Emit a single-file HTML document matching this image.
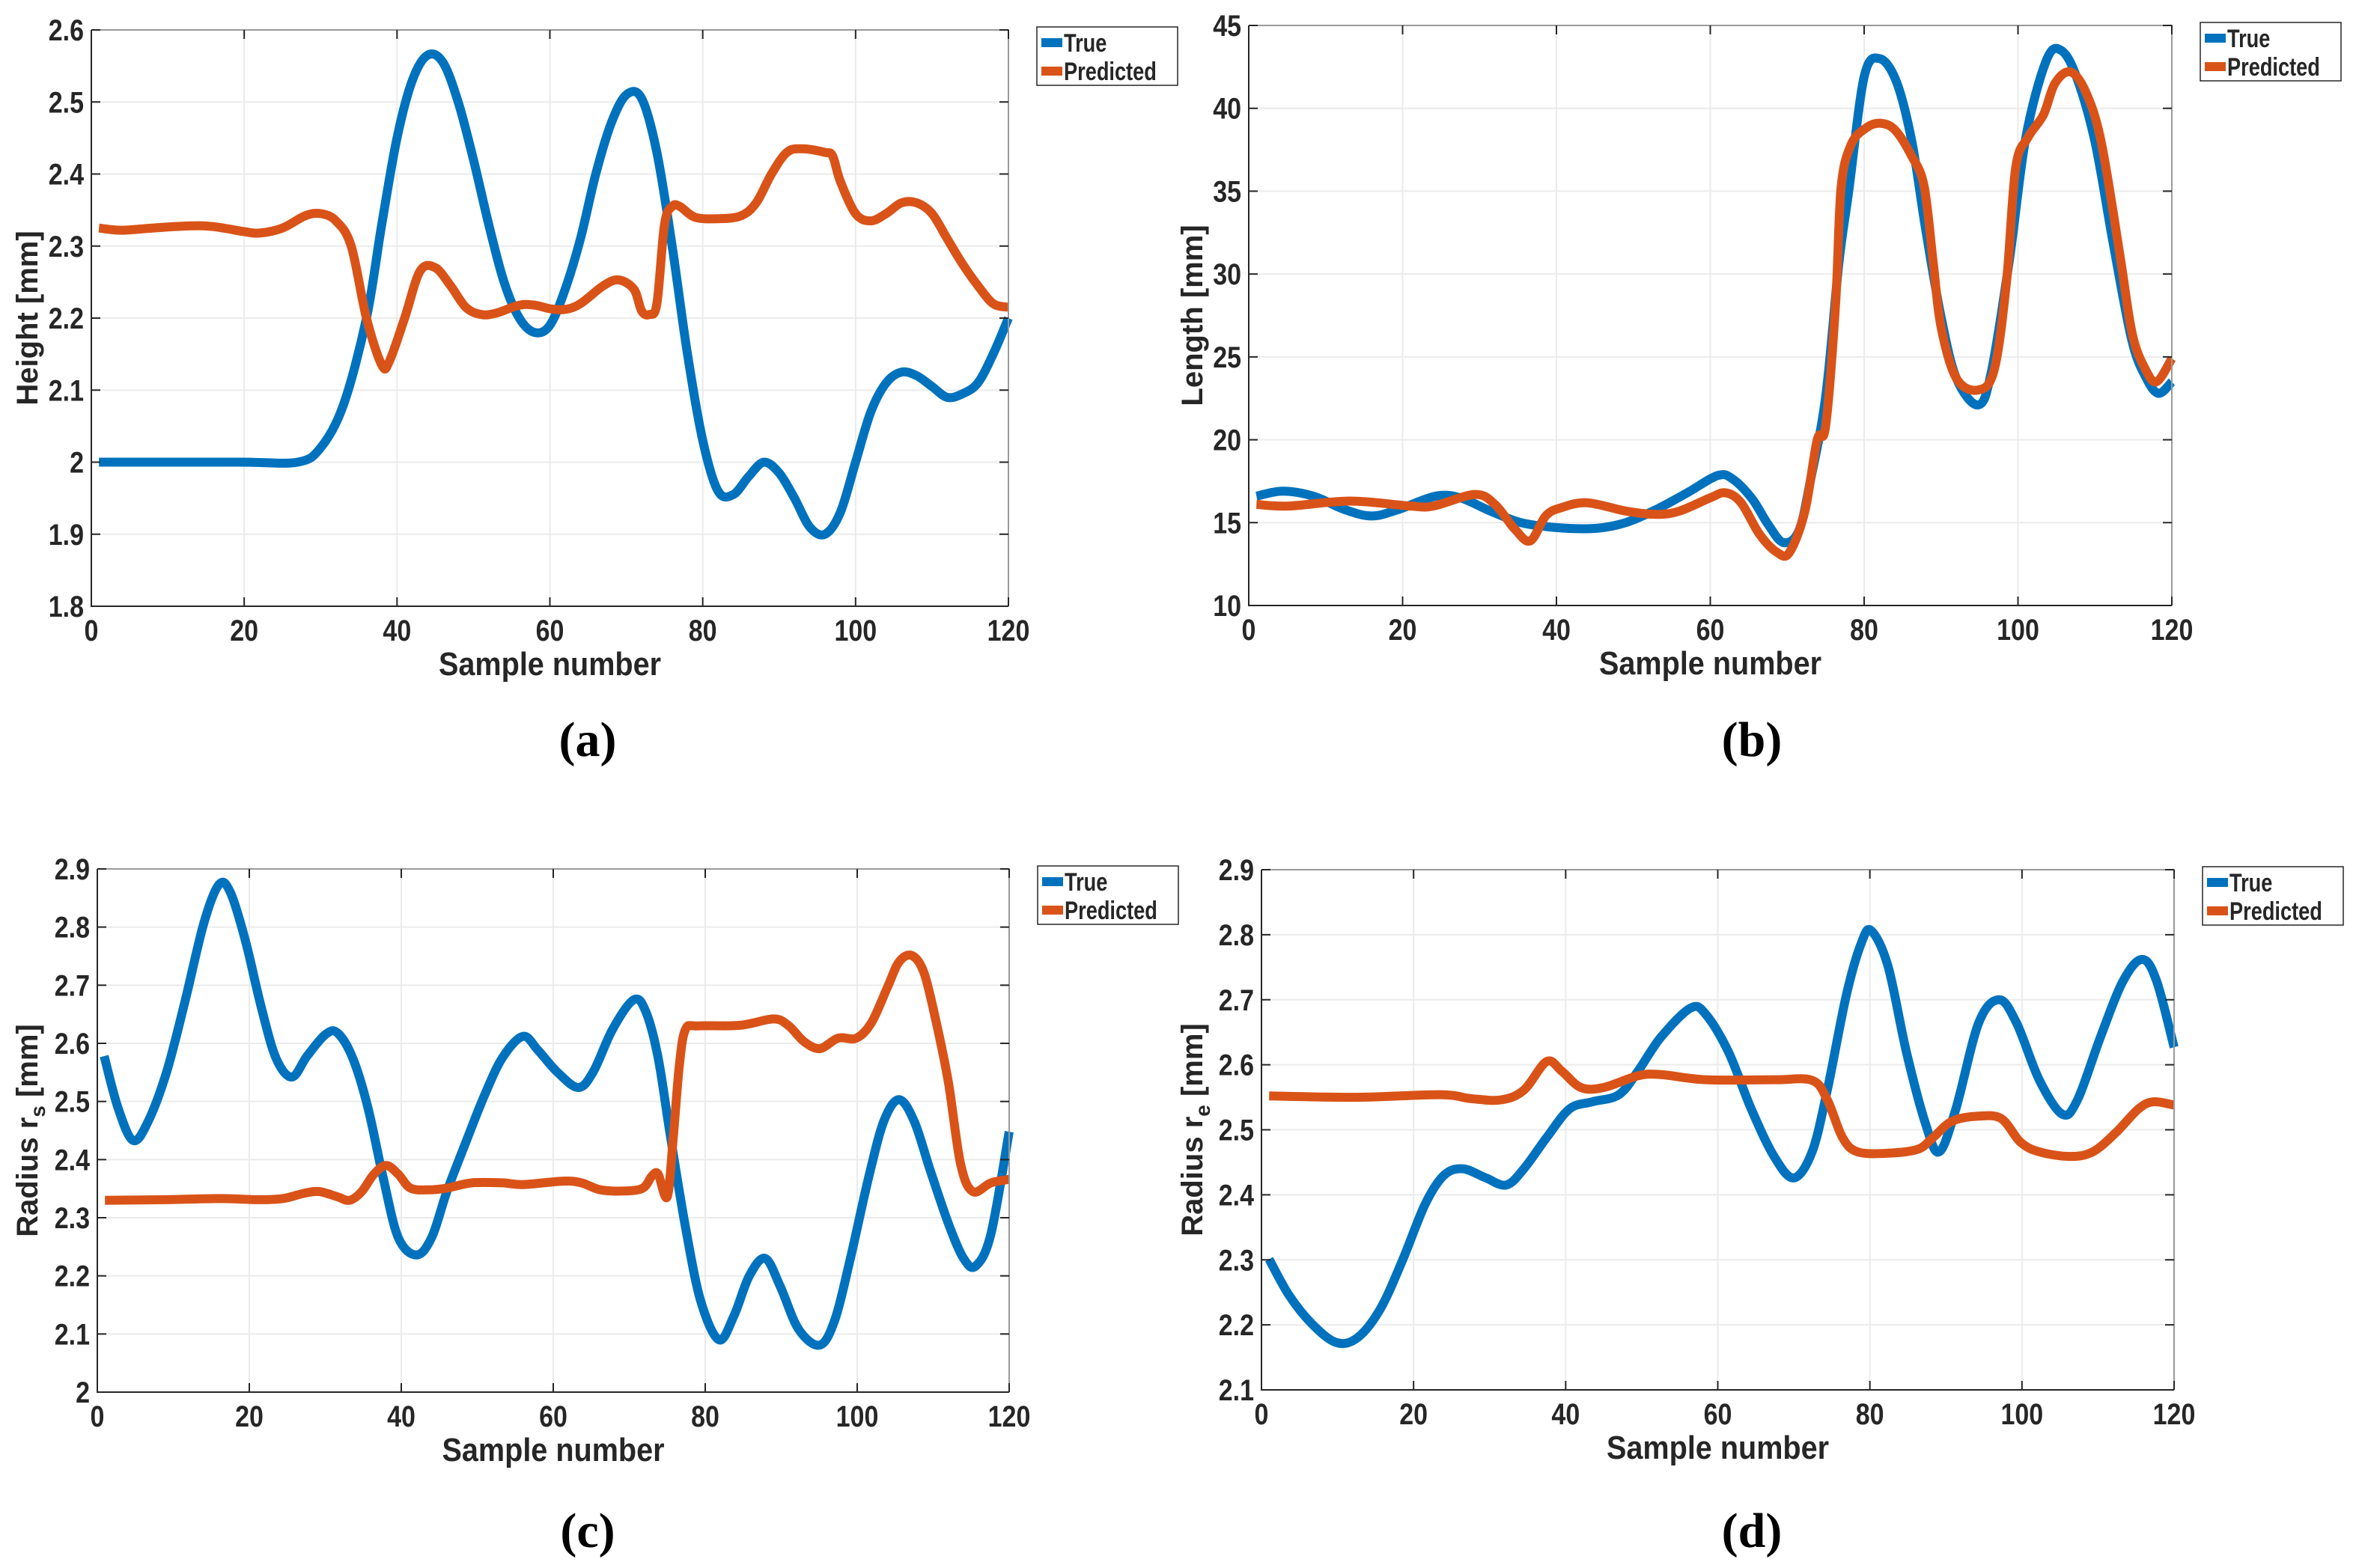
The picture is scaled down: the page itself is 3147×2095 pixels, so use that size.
<!DOCTYPE html>
<html><head><meta charset="utf-8"><style>
html,body{margin:0;padding:0;background:#fff;}
svg{display:block;}
</style></head><body>
<svg id="fig" width="3147" height="2095" viewBox="0 0 3147 2095" xmlns="http://www.w3.org/2000/svg" font-family="Liberation Sans, sans-serif"></svg>
<script>
// ---- Panel (a): Height ----
const aTrueX=[1,10,20,27,30,33,36,38,40,42,44,46,48,50,52,54,56,58,60,62,64,66,68,70,72,74,76,78,80,82,84,86,88,90,92,94,96,98,100,102,104,106,108,110,112,114,116,118,120];
const aTrueY=[2.0,2.0,2.0,2.0,2.02,2.08,2.2,2.33,2.45,2.53,2.565,2.555,2.5,2.42,2.33,2.25,2.2,2.18,2.19,2.24,2.31,2.4,2.47,2.51,2.505,2.43,2.3,2.15,2.03,1.96,1.955,1.98,2.0,1.985,1.95,1.91,1.9,1.93,2.0,2.07,2.11,2.125,2.12,2.105,2.09,2.095,2.11,2.15,2.2];
const aPredX=[1,4,8,13,16,20,22,25,28,30,32,34,36,38,39,41,43,45,47,49,51,53,56,58,60,62,64,67,69,71,72,73,74,75,76,77,79,82,85,87,89,91,93,96,97,98,100,102,104,106,108,110,112,114,116,118,120];
const aPredY=[2.325,2.322,2.325,2.328,2.327,2.32,2.318,2.325,2.342,2.345,2.335,2.3,2.2,2.135,2.14,2.2,2.265,2.27,2.245,2.215,2.205,2.207,2.218,2.218,2.213,2.212,2.22,2.245,2.253,2.24,2.21,2.205,2.22,2.33,2.355,2.355,2.34,2.338,2.342,2.36,2.4,2.43,2.435,2.43,2.425,2.39,2.345,2.335,2.345,2.36,2.36,2.345,2.31,2.275,2.245,2.22,2.215];
const aYTicks=[1.8,1.9,2,2.1,2.2,2.3,2.4,2.5,2.6];
// ---- Panel (b): Length ----
const bTrueX=[1,4.4,8.4,12.4,16,19.5,24.3,27.5,31.4,35.4,40,45,49,53,57,61,63,65.5,67.5,69.5,71.5,73,75,76.7,78,80,82,84.2,86.2,88,90,92,94.8,96.5,98.9,101,103.7,105.6,107.6,110,112.4,114.8,116.7,118.3,120];
const bTrueY=[16.6,16.9,16.6,15.8,15.4,15.8,16.6,16.5,15.7,15.0,14.7,14.65,15.0,15.8,16.8,17.85,17.6,16.4,14.9,13.8,14.5,17.5,22.6,30.6,35,41.9,43,41.6,38,32.7,27.4,23.7,22.1,24,30.9,38.2,42.9,43.5,41.9,38,31.8,26,23.7,22.8,23.5];
const bPredX=[1,5.2,13.2,21,24,29.4,32,34.6,36.6,38.6,40.6,44,49,53,56,60,62,64,66.4,68.7,70.3,72.3,73.9,75,76.3,77,78.3,80.2,82,84,86.2,87.8,89,90,92,94.8,96.9,98.5,99.7,101.3,103.3,104.8,106.8,108.8,110.8,113.2,114.8,116.4,118,120];
const bPredY=[16.1,16.0,16.3,16.0,16.0,16.7,16.1,14.6,13.9,15.4,15.9,16.2,15.7,15.5,15.7,16.5,16.8,16.2,14.3,13.2,13.2,15.7,20,20.85,28.3,35.2,37.8,38.8,39.1,38.7,37.1,35.3,30.6,26.8,23.7,23,24.2,29.5,36.4,38.25,39.6,41.5,42.2,41,38,31.3,26.5,24.4,23.5,24.9];
const bYTicks=[10,15,20,25,30,35,40,45];
// ---- Panel (c): Radius rs ----
const cTrueX=[0.9,2.7,4.7,6.7,9.1,11.5,14,16,17.5,19.5,21.5,23.5,25.6,27.6,30,31.6,33.6,35.6,37.6,39.6,42,44,46,48.5,50.9,53.3,56,58,60.5,63.3,65.3,67.8,70.6,72.2,73.8,75.4,77.4,79.4,81.8,83.8,85.8,87.9,89.9,92.3,95.1,97.1,99.1,101.5,103.5,105.5,107.5,109.6,112,114,115.6,117.6,120];
const cTrueY=[2.578,2.49,2.433,2.466,2.55,2.67,2.806,2.873,2.86,2.776,2.666,2.575,2.542,2.578,2.615,2.618,2.575,2.49,2.37,2.266,2.236,2.266,2.345,2.43,2.509,2.575,2.612,2.588,2.551,2.524,2.552,2.624,2.675,2.654,2.575,2.442,2.284,2.157,2.09,2.132,2.2,2.23,2.181,2.108,2.081,2.126,2.23,2.369,2.466,2.503,2.466,2.382,2.29,2.23,2.217,2.272,2.448];
const cPredX=[1,9,16.3,21,24.4,27.2,29.2,31.6,33.2,34.8,36.4,38,39.6,41.2,43.7,46,49.3,53.3,56,61.3,63.7,66.2,69.4,71.8,73,73.8,75,75.8,76.6,77.4,79,84.6,89,91,93,95.1,97.5,99.9,101.9,104,105.5,107.2,108.8,110.4,112,113.6,115.2,117.6,120];
const cPredY=[2.33,2.331,2.333,2.331,2.333,2.342,2.345,2.336,2.33,2.345,2.375,2.39,2.375,2.351,2.348,2.351,2.36,2.36,2.357,2.363,2.36,2.348,2.346,2.351,2.372,2.375,2.336,2.44,2.563,2.624,2.63,2.631,2.642,2.63,2.603,2.591,2.609,2.609,2.636,2.697,2.74,2.751,2.721,2.636,2.533,2.393,2.345,2.36,2.366];
const cYTicks=[2,2.1,2.2,2.3,2.4,2.5,2.6,2.7,2.8,2.9];
// ---- Panel (d): Radius re ----
const dTrueX=[1,3.6,6.6,9.8,12.6,15.6,18.5,21.5,24,26.5,29.5,32.2,34.5,37.5,40.5,43.5,47,49.5,52.5,56.4,58.4,61.4,64.4,67.4,70,72.4,74.4,76.9,78.9,80.2,82.4,84.8,87.3,89.1,91.3,94.3,97,99.3,102.3,105.3,107.3,110.3,113.3,115.8,117.7,120];
const dTrueY=[2.301,2.246,2.202,2.173,2.18,2.224,2.298,2.385,2.43,2.44,2.426,2.415,2.44,2.488,2.532,2.543,2.554,2.59,2.642,2.687,2.678,2.62,2.532,2.459,2.426,2.466,2.561,2.707,2.788,2.806,2.751,2.62,2.51,2.466,2.532,2.664,2.7,2.664,2.576,2.524,2.546,2.642,2.729,2.762,2.729,2.627];
const dPredX=[1,12.6,23.5,27.5,31.5,34.5,37.5,39.5,42,45,49.5,52.5,58.4,67.4,72.4,74.4,76.4,78.4,82.4,86.3,88.3,90.8,94.3,97.3,99.8,102.3,106.3,109.3,112.3,115.3,117.3,120];
const dPredY=[2.552,2.55,2.554,2.548,2.546,2.561,2.605,2.59,2.565,2.565,2.583,2.585,2.577,2.577,2.576,2.546,2.488,2.466,2.464,2.47,2.488,2.513,2.521,2.517,2.481,2.466,2.459,2.466,2.495,2.532,2.543,2.538];
const dYTicks=[2.1,2.2,2.3,2.4,2.5,2.6,2.7,2.8,2.9];
const xTicks=[0,20,40,60,80,100,120];

const NS="http://www.w3.org/2000/svg";
const svg=document.getElementById('fig');
function mk(tag,attrs,parent){const e=document.createElementNS(NS,tag);for(const k in attrs)e.setAttribute(k,attrs[k]);(parent||svg).appendChild(e);return e;}
function smoothPath(pts){
  let d='M'+pts[0][0].toFixed(1)+','+pts[0][1].toFixed(1);
  for(let i=0;i<pts.length-1;i++){
    const p0=pts[Math.max(0,i-1)],p1=pts[i],p2=pts[i+1],p3=pts[Math.min(pts.length-1,i+2)];
    const c1x=p1[0]+(p2[0]-p0[0])/6,c1y=p1[1]+(p2[1]-p0[1])/6;
    const c2x=p2[0]-(p3[0]-p1[0])/6,c2y=p2[1]-(p3[1]-p1[1])/6;
    d+=' C'+c1x.toFixed(1)+','+c1y.toFixed(1)+' '+c2x.toFixed(1)+','+c2y.toFixed(1)+' '+p2[0].toFixed(1)+','+p2[1].toFixed(1);
  }
  return d;
}
function panel(cfg){
  const g=mk('g',{});
  
  
  const sx=v=>cfg.x0+(v-0)/(120)*(cfg.x1-cfg.x0);
  const sy=v=>cfg.y1-(v-cfg.ymin)/(cfg.ymax-cfg.ymin)*(cfg.y1-cfg.y0);
  xTicks.forEach(t=>{const l=mk('line',{x1:sx(t),x2:sx(t),y1:cfg.y0,y2:cfg.y1,stroke:'#ebebeb','stroke-width':2},g);
    });
  cfg.yt.forEach(t=>{const l=mk('line',{x1:cfg.x0,x2:cfg.x1,y1:sy(t),y2:sy(t),stroke:'#ebebeb','stroke-width':2},g);
    });
  const s1=mk('path',{d:smoothPath(cfg.tx.map((x,i)=>[sx(x),sy(cfg.ty[i])])),fill:'none',stroke:'#0072BD','stroke-width':12,'stroke-linejoin':'round'},g);
  
  const s2=mk('path',{d:smoothPath(cfg.px.map((x,i)=>[sx(x),sy(cfg.py[i])])),fill:'none',stroke:'#D95319','stroke-width':12,'stroke-linejoin':'round'},g);
  
  const bx=mk('path',{d:`M${cfg.x0},${cfg.y0}H${cfg.x1}V${cfg.y1}`,fill:'none',stroke:'#9a9a9a','stroke-width':2},g);
  
  const ax=mk('path',{d:`M${cfg.x0},${cfg.y0}V${cfg.y1}H${cfg.x1}`,fill:'none',stroke:'#262626','stroke-width':2},g);
  
  xTicks.forEach(t=>{
    mk('line',{x1:sx(t),x2:sx(t),y1:cfg.y1,y2:cfg.y1-12,stroke:'#262626','stroke-width':2},g);
    mk('line',{x1:sx(t),x2:sx(t),y1:cfg.y0,y2:cfg.y0+12,stroke:'#262626','stroke-width':2},g);
    const tx=mk('text',{x:0,y:0,'font-size':40,'font-weight':'bold',fill:'#262626','text-anchor':'middle',transform:`translate(${sx(t)},${cfg.y1+46}) scale(0.85,1)`},g);
    tx.textContent=t;
  });
  cfg.yt.forEach(t=>{
    mk('line',{x1:cfg.x0,x2:cfg.x0+12,y1:sy(t),y2:sy(t),stroke:'#262626','stroke-width':2},g);
    mk('line',{x1:cfg.x1,x2:cfg.x1-12,y1:sy(t),y2:sy(t),stroke:'#262626','stroke-width':2},g);
    const tx=mk('text',{x:0,y:0,'font-size':40,'font-weight':'bold',fill:'#262626','text-anchor':'end',transform:`translate(${cfg.x0-10},${sy(t)+14}) scale(0.85,1)`},g);
    tx.textContent=t;
  });
  const xt=mk('text',{x:0,y:0,'font-size':44,'font-weight':'bold',fill:'#262626','text-anchor':'middle',transform:`translate(${(cfg.x0+cfg.x1)/2},${cfg.y1+92}) scale(0.9,1)`},g);
  xt.textContent='Sample number';
  const yt=mk('text',{x:0,y:0,'font-size':40,'font-weight':'bold',fill:'#262626','text-anchor':'middle',transform:`translate(${cfg.ytx},${(cfg.y0+cfg.y1)/2}) rotate(-90)`},g);
  
  if(cfg.sub){yt.textContent=cfg.ytitle+'  r';const ts=mk('tspan',{'font-size':28,dy:10},yt);ts.textContent=cfg.sub;const t2=mk('tspan',{dy:-10},yt);t2.textContent='  [mm]';}
  else yt.textContent=cfg.ytitle;
  const lx=cfg.x1+38, ly=cfg.y0-4;
  const lg=mk('g',{},g);
  mk('rect',{x:lx,y:ly,width:188,height:78,fill:'#fff',stroke:'#262626','stroke-width':1.5},lg);
  [['True','#0072BD',21],['Predicted','#D95319',59]].forEach(([n,c,dy])=>{
    const r=mk('rect',{x:lx+6,y:ly+dy-6,width:28,height:12,fill:c},lg);
    
    const t=mk('text',{x:0,y:0,'font-size':34,'font-weight':'bold',fill:'#262626',transform:`translate(${lx+36},${ly+dy+12}) scale(0.8,1)`},lg);
    t.textContent=n;
  });
  const lab=mk('text',{x:cfg.labx,y:cfg.laby,'font-size':66,'font-weight':'bold',fill:'#000','text-anchor':'middle',style:'font-family:"Liberation Serif",serif'},g);
  lab.textContent='('+cfg.id+')';
}
panel({id:'a',x0:122,x1:1347,y0:40,y1:810,ymin:1.8,ymax:2.6,yt:aYTicks,tx:aTrueX,ty:aTrueY,px:aPredX,py:aPredY,ytitle:'Height [mm]',ytx:50,labx:785,laby:1010});
panel({id:'b',x0:1668,x1:2901,y0:34,y1:809,ymin:10,ymax:45,yt:bYTicks,tx:bTrueX,ty:bTrueY,px:bPredX,py:bPredY,ytitle:'Length [mm]',ytx:1606,labx:2340,laby:1010});
panel({id:'c',x0:130,x1:1348,y0:1161,y1:1860,ymin:2,ymax:2.9,yt:cYTicks,tx:cTrueX,ty:cTrueY,px:cPredX,py:cPredY,ytitle:'Radius',sub:'s',ytx:50,labx:785,laby:2067});
panel({id:'d',x0:1685,x1:2904,y0:1162,y1:1857,ymin:2.1,ymax:2.9,yt:dYTicks,tx:dTrueX,ty:dTrueY,px:dPredX,py:dPredY,ytitle:'Radius',sub:'e',ytx:1606,labx:2340,laby:2067});
</script>
</body></html>
